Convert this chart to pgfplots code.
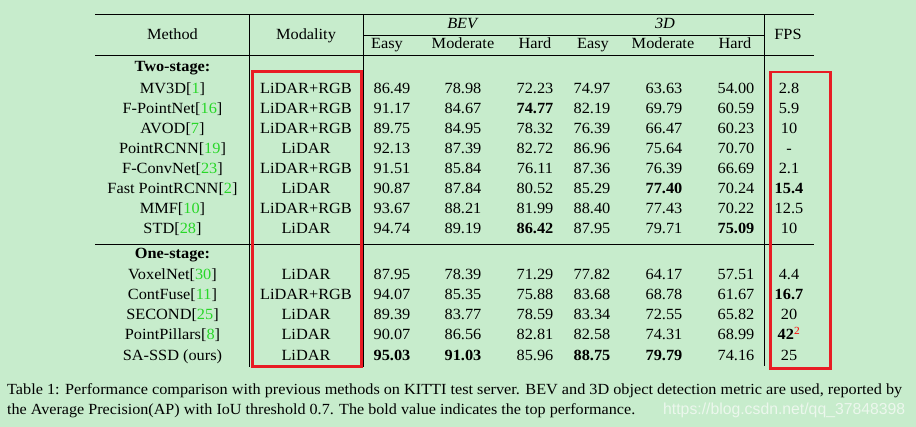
\documentclass[border=0pt]{standalone}
\usepackage{fontspec}
\setmainfont[FakeStretch=1.05]{Liberation Serif}
\newfontfamily\capfontfam{Liberation Serif}
\newfontfamily\wmfontfam{Liberation Sans}
\usepackage{graphicx}
\usepackage{xcolor}
\usepackage{pgfplots}
\usepackage{pgfplotstable}
\pgfplotsset{compat=1.18}
\definecolor{bg}{RGB}{199,236,204}
\definecolor{boxred}{RGB}{232,28,36}
\definecolor{citegreen}{RGB}{40,215,40}
\definecolor{wm}{RGB}{236,247,237}
\newcommand\tabfont{\fontsize{15.6}{18}\selectfont}
\DeclareRobustCommand\C[1]{\textcolor{citegreen}{#1}}
\DeclareRobustCommand\R[1]{\textsuperscript{\textcolor{red}{#1}}}

\pgfplotstableread[col sep=comma]{
y,method,modality,be,bm,bh,te,tm,th,fps
93.2,MV3D[\C{1}],LiDAR+RGB,86.49,78.98,72.23,74.97,63.63,54.00,2.8
113.3,F-PointNet[\C{16}],LiDAR+RGB,91.17,84.67,\textbf{74.77},82.19,69.79,60.59,5.9
133.3,AVOD[\C{7}],LiDAR+RGB,89.75,84.95,78.32,76.39,66.47,60.23,10
153.3,PointRCNN[\C{19}],LiDAR,92.13,87.39,82.72,86.96,75.64,70.70,-
173.3,F-ConvNet[\C{23}],LiDAR+RGB,91.51,85.84,76.11,87.36,76.39,66.69,2.1
193.3,Fast PointRCNN[\C{2}],LiDAR,90.87,87.84,80.52,85.29,\textbf{77.40},70.24,\textbf{15.4}
213.3,MMF[\C{10}],LiDAR+RGB,93.67,88.21,81.99,88.40,77.43,70.22,12.5
233.6,STD[\C{28}],LiDAR,94.74,89.19,\textbf{86.42},87.95,79.71,\textbf{75.09},10
279.0,VoxelNet[\C{30}],LiDAR,87.95,78.39,71.29,77.82,64.17,57.51,4.4
299.4,ContFuse[\C{11}],LiDAR+RGB,94.07,85.35,75.88,83.68,68.78,61.67,\textbf{16.7}
319.4,SECOND[\C{25}],LiDAR,89.39,83.77,78.59,83.34,72.55,65.82,20
339.6,PointPillars[\C{8}],LiDAR,90.07,86.56,82.81,82.58,74.31,68.99,\textbf{42}\R{2}
360.4,SA-SSD (ours),LiDAR,\textbf{95.03},\textbf{91.03},85.96,\textbf{88.75},\textbf{79.79},74.16,25
}\rows

\begin{document}
\begin{tikzpicture}
\begin{axis}[
  scale only axis, width=916bp, height=427bp,
  xmin=0, xmax=916, ymin=0, ymax=427, y dir=reverse,
  hide axis, clip=false,
  every node near coord/.style={anchor=base, inner sep=0pt, outer sep=0pt, font=\tabfont, text=black},
  cell/.style={draw=none, mark=none, nodes near coords={\pgfplotspointmeta}, point meta=explicit symbolic},
]
% background
\addplot[fill=bg, draw=none] coordinates {(0,0) (916,0) (916,427) (0,427) (0,0)};

% horizontal rules
\addplot[black, line width=1bp] coordinates {(95,14.4) (814,14.4)};
\addplot[black, line width=1bp] coordinates {(363.5,35.2) (764.3,35.2)};
\addplot[black, line width=1bp] coordinates {(95,55.2) (814,55.2)};
\addplot[black, line width=1bp] coordinates {(95,244.7) (814,244.7)};
% vertical rules
\addplot[black, line width=1bp] coordinates {(249.8,14.4) (249.8,367)};
\addplot[black, line width=1bp] coordinates {(363.5,14.4) (363.5,367)};
\addplot[black, line width=1bp] coordinates {(764.3,14.4) (764.3,365.5)};

% table cells
\addplot[cell] table[x expr=172.5, y=y, meta=method] {\rows};
\addplot[cell] table[x expr=306, y=y, meta=modality] {\rows};
\addplot[cell] table[x expr=392, y=y, meta=be] {\rows};
\addplot[cell] table[x expr=463, y=y, meta=bm] {\rows};
\addplot[cell] table[x expr=535, y=y, meta=bh] {\rows};
\addplot[cell] table[x expr=592, y=y, meta=te] {\rows};
\addplot[cell] table[x expr=664, y=y, meta=tm] {\rows};
\addplot[cell] table[x expr=736, y=y, meta=th] {\rows};
\addplot[cell] table[x expr=789, y=y, meta=fps] {\rows};

% red boxes
\addplot[boxred, line width=2.8bp, line cap=rect, line join=miter] coordinates {(252.5,71.3) (361.3,71.3) (361.3,366.3) (252.5,366.3) (252.5,71.3)};
\addplot[boxred, line width=2.8bp, line cap=rect, line join=miter] coordinates {(770.5,72) (830.6,72) (830.6,368.8) (770.5,368.8) (770.5,72)};

% headers
\node[anchor=base, inner sep=0pt, font=\tabfont] at (axis cs:172.5,40) {Method};
\node[anchor=base, inner sep=0pt, font=\tabfont] at (axis cs:306,40) {Modality};
\node[anchor=base, inner sep=0pt, font=\tabfont] at (axis cs:463,28.6) {\textit{BEV}};
\node[anchor=base, inner sep=0pt, font=\tabfont] at (axis cs:665,28.8) {\textit{3D}};
\node[anchor=base, inner sep=0pt, font=\tabfont] at (axis cs:788,39.4) {FPS};
\node[anchor=base, inner sep=0pt, font=\tabfont] at (axis cs:387,49) {Easy};
\node[anchor=base, inner sep=0pt, font=\tabfont] at (axis cs:463,49) {Moderate};
\node[anchor=base, inner sep=0pt, font=\tabfont] at (axis cs:535,49) {Hard};
\node[anchor=base, inner sep=0pt, font=\tabfont] at (axis cs:593,49) {Easy};
\node[anchor=base, inner sep=0pt, font=\tabfont] at (axis cs:663,49) {Moderate};
\node[anchor=base, inner sep=0pt, font=\tabfont] at (axis cs:735,49) {Hard};
\node[anchor=base, inner sep=0pt, font=\tabfont] at (axis cs:172.5,72) {\textbf{Two-stage:}};
\node[anchor=base, inner sep=0pt, font=\tabfont] at (axis cs:172.5,258.7) {\textbf{One-stage:}};

% caption
\node[anchor=base west, inner sep=0pt] at (axis cs:7,394) {\capfontfam\fontsize{15.5}{18}\selectfont\resizebox{895bp}{\height}{Table 1: Performance comparison with previous methods on KITTI test server. BEV and 3D object detection metric are used, reported by}};
\node[anchor=base west, inner sep=0pt] at (axis cs:7,414) {\capfontfam\fontsize{15.5}{18}\selectfont\resizebox{628bp}{\height}{the Average Precision(AP) with IoU threshold 0.7. The bold value indicates the top performance.}};
% watermark
\node[anchor=base west, inner sep=0pt] at (axis cs:663,414) {\wmfontfam\fontsize{16}{18}\selectfont\color{wm}\resizebox{242bp}{\height}{https://blog.csdn.net/qq\_37848398}};
\end{axis}
\end{tikzpicture}
\end{document}
